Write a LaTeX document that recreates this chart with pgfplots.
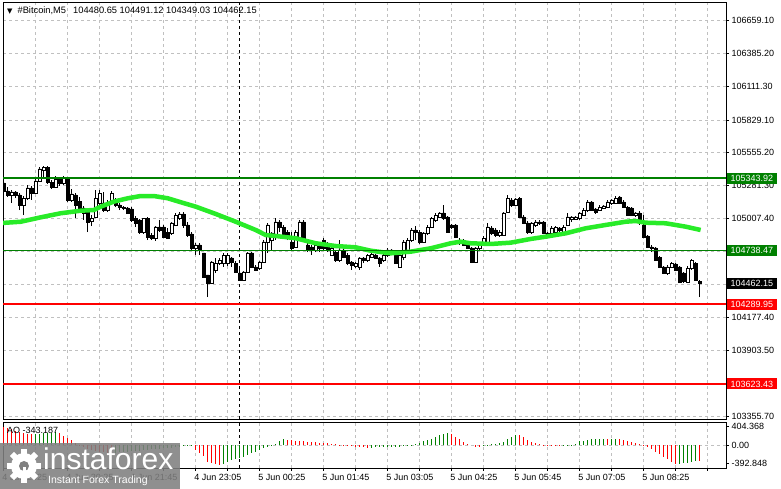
\documentclass[border=0pt]{standalone}
\usepackage{fontspec}
\setmainfont{Liberation Sans}
\newfontfamily\dejavu{DejaVu Sans}
\usepackage{pgfplots}
\pgfplotsset{compat=1.18}
\usepackage{pgfplotstable}
\definecolor{lvgreen}{RGB}{0,128,0}
\definecolor{lvred}{RGB}{255,0,0}
\definecolor{magreen}{RGB}{40,235,40}
\definecolor{gridgray}{RGB}{192,192,192}
\definecolor{wmgray}{RGB}{128,128,128}

\pgfplotstableread{
i o h l c
0 105303 105345 105219 105236
1 105236 105270 105186 105203
2 105203 105244 105136 105228
3 105228 105236 105177 105203
4 105203 105219 105077 105119
5 105119 105194 105035 105177
6 105177 105286 105161 105261
7 105261 105278 105161 105219
8 105219 105345 105211 105320
9 105320 105436 105311 105420
10 105411 105445 105345 105436
11 105436 105445 105295 105311
12 105311 105328 105253 105270
13 105270 105361 105261 105336
14 105336 105353 105278 105303
15 105303 105361 105286 105345
16 105345 105353 105144 105161
17 105161 105253 105144 105211
18 105203 105219 105010 105119
19 105152 105186 105077 105094
20 105094 105111 104994 105052
21 105060 105077 104893 104977
22 104985 105035 104943 105010
23 105019 105244 105010 105177
24 105136 105244 105111 105219
25 105136 105228 105060 105077
26 105077 105161 105060 105136
27 105136 105236 105119 105219
28 105152 105177 105102 105119
29 105119 105136 105077 105102
30 105102 105111 105077 105094
31 105094 105102 105044 105052
32 105086 105102 104977 104994
33 105010 105027 104935 104969
34 104994 105002 104877 104893
35 104893 105010 104877 105010
36 105010 105019 104826 104852
37 104868 104885 104826 104843
38 104843 104943 104818 104935
39 104935 104994 104893 104910
40 104935 104952 104843 104852
41 104893 104927 104835 104843
42 104885 104977 104868 104969
43 104952 105052 104943 105035
44 105010 105060 104994 105044
45 105044 105060 104927 104952
46 104952 104977 104852 104868
47 104877 104893 104743 104760
48 104760 104801 104701 104785
49 104785 104801 104701 104743
50 104718 104718 104509 104517
51 104534 104534 104350 104467
52 104467 104651 104459 104643
53 104576 104676 104551 104634
54 104634 104676 104617 104659
55 104634 104718 104601 104701
56 104634 104718 104609 104701
57 104676 104684 104601 104643
58 104634 104651 104551 104559
59 104551 104592 104484 104492
60 104492 104567 104484 104559
61 104559 104726 104551 104718
62 104718 104726 104592 104601
63 104601 104617 104567 104576
64 104592 104651 104576 104643
65 104643 104826 104634 104810
66 104810 104969 104718 104952
67 104826 104893 104743 104885
68 104868 105010 104826 104977
69 104977 104994 104893 104935
70 104935 104952 104860 104868
71 104893 104910 104826 104843
72 104810 104893 104743 104760
73 104768 104910 104760 104893
74 104852 104994 104843 104977
75 104977 104994 104810 104826
76 104785 104826 104726 104743
77 104768 104785 104701 104743
78 104743 104810 104726 104785
79 104785 104801 104726 104760
80 104826 104843 104743 104760
81 104801 104810 104726 104743
82 104701 104776 104693 104760
83 104726 104743 104643 104659
84 104659 104826 104643 104743
85 104743 104760 104676 104684
86 104701 104718 104617 104634
87 104643 104651 104576 104617
88 104609 104643 104592 104634
89 104601 104684 104576 104676
90 104676 104684 104634 104659
91 104659 104709 104643 104701
92 104684 104718 104676 104709
93 104701 104709 104668 104676
94 104676 104684 104601 104634
95 104659 104709 104643 104701
96 104701 104760 104684 104743
97 104735 104751 104718 104743
98 104726 104743 104626 104634
99 104601 104743 104592 104701
100 104684 104826 104659 104810
101 104743 104843 104726 104826
102 104826 104927 104810 104910
103 104910 104943 104826 104893
104 104893 104910 104793 104810
105 104810 104893 104801 104885
106 104885 104952 104868 104935
107 104935 105019 104927 105010
108 104994 105052 104977 105035
109 105019 105060 105010 105052
110 105052 105119 104994 105010
111 105019 105027 104885 104893
112 104952 104960 104918 104935
113 104952 104960 104843 104852
114 104826 104843 104785 104801
115 104826 104835 104776 104785
116 104801 104810 104751 104760
117 104760 104768 104634 104643
118 104643 104768 104634 104760
119 104760 104810 104743 104801
120 104810 104860 104801 104843
121 104810 104969 104793 104935
122 104927 104943 104868 104885
123 104910 104927 104852 104868
124 104868 104910 104852 104893
125 104868 105060 104860 105052
126 105060 105203 105052 105177
127 105161 105177 105102 105119
128 105119 105177 105111 105169
129 105177 105186 105010 105019
130 105019 105035 104960 104969
131 104969 104985 104877 104893
132 104893 104977 104877 104969
133 104952 104994 104935 104977
134 104969 104994 104952 104977
135 104977 104985 104877 104885
136 104885 104893 104843 104868
137 104885 104943 104868 104927
138 104893 104943 104885 104935
139 104927 104935 104893 104910
140 104893 104952 104885 104935
141 104952 105052 104943 105019
142 105002 105027 104977 105019
143 105002 105027 104994 105019
144 105010 105060 104994 105052
145 105035 105094 105027 105077
146 105077 105161 105060 105144
147 105144 105152 105069 105077
148 105086 105094 105044 105060
149 105077 105119 105069 105102
150 105094 105119 105086 105111
151 105102 105161 105094 105144
152 105136 105169 105119 105161
153 105136 105194 105127 105177
154 105186 105194 105127 105136
155 105144 105161 105094 105102
156 105102 105111 105027 105035
157 105094 105102 105027 105035
158 105035 105060 105019 105052
159 105052 105069 104952 104994
160 104952 105035 104843 104852
161 104860 104868 104760 104768
162 104768 104785 104726 104760
163 104760 104768 104651 104659
164 104684 104693 104592 104601
165 104601 104609 104542 104551
166 104551 104617 104534 104601
167 104601 104643 104592 104634
168 104626 104634 104567 104576
169 104601 104609 104467 104475
170 104551 104559 104467 104484
171 104475 104609 104467 104592
172 104592 104668 104576 104659
173 104634 104643 104484 104492
174 104480.65 104491.12 104349.03 104462.15
}\candles

\pgfplotstableread{
i ao g
0 398 0
1 372 0
2 345 0
3 318 0
4 292 0
5 268 0
6 250 0
7 238 0
8 242 1
9 250 1
10 260 1
11 268 1
12 274 1
13 278 1
14 255 0
15 210 0
16 160 0
17 110 0
18 60 0
19 10 0
20 -30 0
21 -70 0
22 -100 0
23 -125 0
24 -140 0
25 -150 0
26 -158 0
27 -160 0
28 -155 1
29 -150 1
30 -142 1
31 -135 1
32 -128 1
33 -120 1
34 -112 1
35 -105 1
36 -98 1
37 -90 1
38 -82 1
39 -75 1
40 -66 1
41 -58 1
42 -50 1
43 -40 1
44 -30 1
45 -25 1
46 -20 1
47 -18 1
48 -100 0
49 -170 0
50 -240 0
51 -350 0
52 -383 0
53 -410 0
54 -418 0
55 -405 1
56 -350 1
57 -312 1
58 -298 1
59 -277 1
60 -241 1
61 -206 1
62 -170 1
63 -135 1
64 -100 1
65 -64 1
66 -28 1
67 -3 1
68 28 1
69 99 1
70 135 1
71 120 0
72 110 0
73 100 0
74 92 0
75 85 0
76 78 0
77 70 0
78 62 0
79 55 0
80 48 0
81 40 0
82 32 0
83 24 0
84 15 0
85 8 0
86 -10 0
87 -20 0
88 -30 0
89 -38 0
90 -45 0
91 -50 0
92 -48 1
93 -45 1
94 -42 1
95 -40 1
96 -38 1
97 -36 1
98 -34 1
99 -30 1
100 -20 1
101 -10 1
102 5 1
103 28 1
104 57 1
105 85 1
106 114 1
107 142 1
108 185 1
109 213 1
110 241 1
111 270 1
112 241 0
113 185 0
114 128 0
115 71 0
116 28 0
117 0 0
118 -28 0
119 -30 0
120 -5 1
121 14 1
122 21 1
123 28 1
124 43 1
125 71 1
126 128 1
127 170 1
128 227 1
129 220 0
130 170 0
131 114 0
132 71 0
133 43 0
134 21 0
135 7 0
136 -2 0
137 -14 0
138 -21 0
139 -25 0
140 -7 1
141 7 1
142 14 1
143 28 1
144 85 1
145 99 1
146 114 1
147 128 1
148 132 1
149 135 1
150 138 1
151 130 0
152 132 1
153 134 1
154 128 0
155 115 0
156 95 0
157 70 0
158 45 0
159 20 0
160 -14 0
161 -28 0
162 -85 0
163 -135 0
164 -192 0
165 -241 0
166 -298 0
167 -360 0
168 -400 0
169 -396 1
170 -390 1
171 -378 1
172 -360 1
173 -335 1
174 -343.187 0
}\aodata

\begin{document}
\begin{tikzpicture}
\path[use as bounding box, fill=white] (0pt,0pt) rectangle (781pt,489pt);

% ---------------- main price panel ----------------
\begin{axis}[
  at={(3pt,70pt)}, anchor=south west, scale only axis,
  width=723pt, height=417pt,
  xmin=-0.2, xmax=180.6, ymin=103330.5, ymax=106815.4,
  clip mode=individual,
  axis line style={black, line width=0.8pt},
  xtick={0,8,...,176}, xticklabels={},
  xtick style={draw=none},
  tick align=outside, major tick length=3pt,
  ytick pos=right, yticklabel pos=right,
  ytick={103355.7,103629.6,103903.5,104177.4,104454.1,104730.7,105007.4,105281.3,105555.2,105829.1,106111.3,106385.2,106659.1},
  yticklabels={103355.70,,103903.50,104177.40,,,105007.40,105281.30,105555.20,105829.10,106111.30,106385.20,106659.10},
  ytick style={black, line width=0.6pt},
  tick label style={font=\fontsize{9}{10}\selectfont, black},
  yticklabel style={xshift=-1pt},
  grid=major,
  major grid style={gridgray, dash pattern=on 3pt off 3pt, line width=0.6pt},
  extra x ticks={59}, extra x tick labels={},
  extra x tick style={grid=major, major grid style={black, dash pattern=on 3pt off 3pt, line width=0.9pt}},
]
% wicks
\addplot[draw=none, no markers, forget plot,
  error bars/.cd, y dir=plus, y explicit, error mark=none,
  error bar style={draw=black, line width=0.8pt, solid}]
  table[x=i, y=l, y error plus expr=\thisrow{h}-\thisrow{l}] {\candles};
% bodies
\addplot[ybar, bar width=2.6pt, bar shift=0pt, stack plots=y, draw=none, fill=none, forget plot]
  table[x=i, y expr={min(\thisrow{o},\thisrow{c})}] {\candles};
\addplot[ybar, bar width=2.6pt, bar shift=0pt, stack plots=y, draw=black, fill=white, line width=0.8pt, forget plot]
  table[x=i, y expr={max(\thisrow{c}-\thisrow{o},0)}] {\candles};
\addplot[ybar, bar width=2.6pt, bar shift=0pt, stack plots=y, draw=black, fill=black, line width=0.8pt, forget plot]
  table[x=i, y expr={max(\thisrow{o}-\thisrow{c},0)}] {\candles};
% moving average
\addplot[magreen, line width=4.5pt, line join=round] coordinates {
(-0.2,104969) (4.25,104979) (9.25,105016) (14.25,105050) (19.25,105071) (22.5,105077)
(24.25,105105) (27.5,105147) (31,105175) (34.25,105194) (37.5,105194) (41,105175)
(44.25,105142) (48,105105) (53,105044) (58,104979) (63,104910) (65.5,104868)
(68,104860) (73,104841) (78,104799) (83,104776) (88,104765) (91.75,104737)
(96.75,104715) (101.75,104729) (106.75,104757) (111.75,104799) (114.25,104812)
(116.75,104799) (121.75,104793) (126.75,104804) (131.75,104835) (135.5,104854)
(140.5,104882) (145.5,104924) (150.5,104952) (155.5,104979) (158,104985)
(160.5,104971) (165.5,104966) (170.5,104938) (174.25,104910)};
% levels
\addplot[lvgreen, line width=1.8pt] coordinates {(-0.2,105343.92) (180.6,105343.92)};
\addplot[lvgreen, line width=1.8pt] coordinates {(-0.2,104738.47) (180.6,104738.47)};
\addplot[lvred, line width=1.8pt] coordinates {(-0.2,104289.95) (180.6,104289.95)};
\addplot[lvred, line width=1.8pt] coordinates {(-0.2,103623.43) (180.6,103623.43)};
% price boxes
\tikzset{pbox/.style={anchor=west, text=white, inner xsep=3.5pt, inner ysep=0pt,
  minimum height=11pt, font=\fontsize{9}{10}\selectfont, xshift=1pt}}
\node[pbox, fill=lvgreen] at (axis cs:180.6,105343.92) {105343.92};
\node[pbox, fill=lvgreen] at (axis cs:180.6,104738.47) {104738.47};
\node[pbox, fill=black] at (axis cs:180.6,104462.15) {104462.15};
\node[pbox, fill=lvred] at (axis cs:180.6,104289.95) {104289.95};
\node[pbox, fill=lvred] at (axis cs:180.6,103623.43) {103623.43};
\end{axis}

% ---------------- AO panel ----------------
\begin{axis}[
  at={(3pt,21pt)}, anchor=south west, scale only axis,
  width=723pt, height=46pt,
  xmin=-0.2, xmax=180.6, ymin=-488, ymax=501,
  axis line style={black, line width=0.8pt},
  xtick={0,8,...,176},
  xticklabels={4 Jun 2025,,4 Jun 20:25,,4 Jun 21:45,,4 Jun 23:05,,5 Jun 00:25,,5 Jun 01:45,,5 Jun 03:05,,5 Jun 04:25,,5 Jun 05:45,,5 Jun 07:05,,5 Jun 08:25,,},
  xtick pos=bottom,
  tick align=outside, major tick length=3pt,
  xticklabel style={anchor=north west, xshift=-1.5pt, inner xsep=0pt},
  ytick pos=right, yticklabel pos=right,
  ytick={-392.848,0,404.368},
  yticklabels={-392.848,0.00,404.368},
  tick style={black, line width=0.6pt},
  tick label style={font=\fontsize{9}{10}\selectfont, black},
  yticklabel style={xshift=-1pt},
  xmajorgrids,
  major grid style={gridgray, dash pattern=on 3pt off 3pt, line width=0.6pt},
  extra y ticks={0}, extra y tick labels={},
  extra y tick style={ymajorgrids, major tick length=0pt},
  extra x ticks={59}, extra x tick labels={},
  extra x tick style={xmajorgrids, major tick length=0pt, major grid style={black, dash pattern=on 3pt off 3pt, line width=0.9pt}},
]
\addplot[ycomb, lvgreen, line width=1.1pt, restrict expr to domain={\thisrow{g}}{0.5:1.5}]
  table[x=i, y=ao] {\aodata};
\addplot[ycomb, lvred, line width=1.1pt, restrict expr to domain={\thisrow{g}}{-0.5:0.5}]
  table[x=i, y=ao] {\aodata};
\end{axis}

% ---------------- texts ----------------
\node[anchor=west, inner sep=0pt] at (7pt,478pt) {{\dejavu\fontsize{7}{8}\selectfont ▼}\hspace{5pt}\fontsize{9.3}{10}\selectfont \#Bitcoin,M5\hspace{7pt}104480.65 104491.12 104349.03 104462.15};
\node[anchor=west, inner sep=0pt, font=\fontsize{9}{10}\selectfont] at (7pt,59pt) {AO -343.187};

% ---------------- watermark ----------------
\fill[wmgray, opacity=0.88] (0pt,0pt) rectangle (180pt,46pt);
\fill[white] (24pt,23pt) circle (13pt);
\foreach \a in {0,45,...,315}
  \fill[white, rotate around={\a:(24pt,23pt)}] (21pt,33pt) rectangle (27pt,40pt);
\fill[wmgray] (24pt,23pt) circle (5pt);
\fill[white] (22.5pt,14pt) rectangle (25.5pt,22pt);
\node[anchor=base west, inner sep=0pt, text=white, font=\fontsize{30}{32}\selectfont] at (43pt,19pt) {instaforex};
\node[anchor=base west, inner sep=0pt, text=white, font=\fontsize{10.5}{12}\selectfont] at (48pt,5pt) {Instant Forex Trading};
\end{tikzpicture}
\end{document}
